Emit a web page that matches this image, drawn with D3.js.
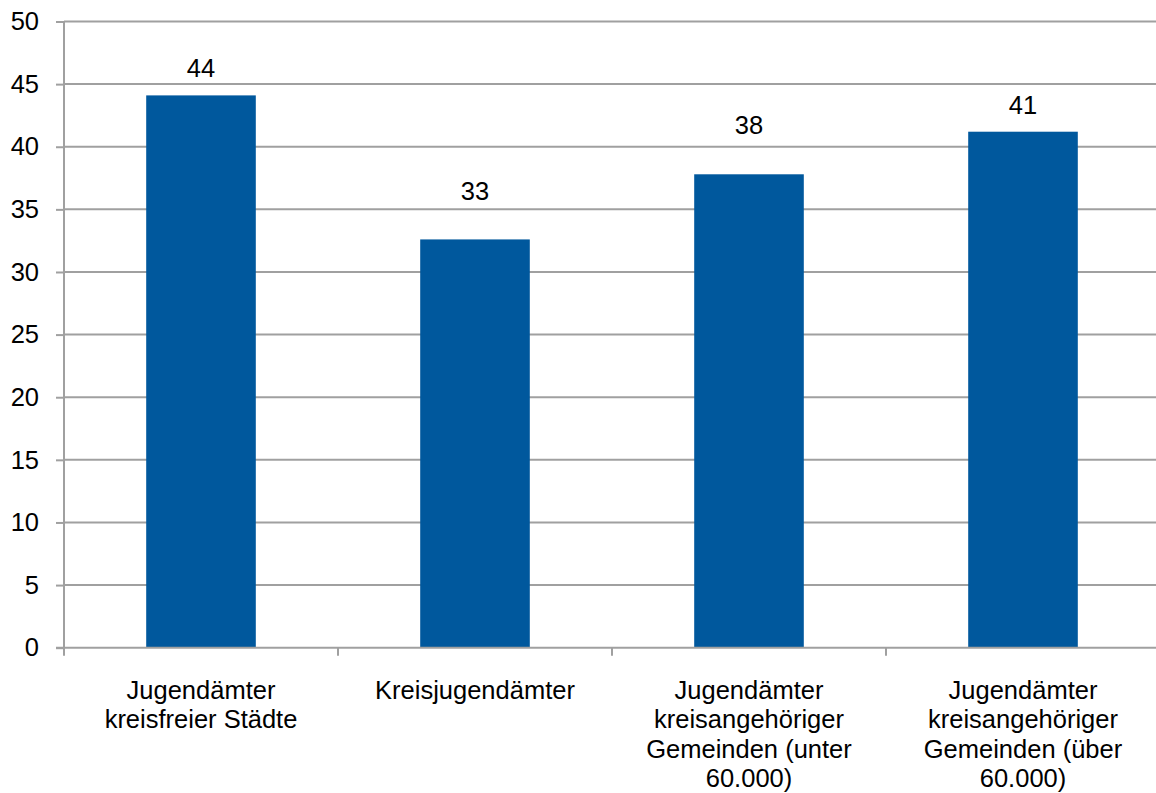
<!DOCTYPE html>
<html><head><meta charset="utf-8">
<script src="https://cdn.jsdelivr.net/npm/d3@7"></script>
<style>body{margin:0;background:#fff;} svg{display:block;font-family:"Liberation Sans",Arial,sans-serif;}</style>
</head><body><svg id="c" width="1156" height="793"></svg>
<script>
const categories = [
  ["Jugendämter","kreisfreier Städte"],
  ["Kreisjugendämter"],
  ["Jugendämter","kreisangehöriger","Gemeinden (unter","60.000)"],
  ["Jugendämter","kreisangehöriger","Gemeinden (über","60.000)"]
];
const values = [44.1, 32.6, 37.8, 41.2];
const valueLabels = ["44","33","38","41"];
// value (in axis units) at which each data label's baseline sits, as in the original
const labelLevels = [45.55, 35.77, 41.04, 42.63];
const yTicks = [0,5,10,15,20,25,30,35,40,45,50];

const FS = 25.5;
const svg = d3.select("#c");
const m = {left:64, right:-4, top:21.5, bottom:145.3};
const W = 1156, H = 793;
const x = d3.scaleBand().domain(d3.range(categories.length)).range([m.left, W - m.right]).paddingInner(0.6).paddingOuter(0.3);
const y = d3.scaleLinear().domain([0,50]).range([H - m.bottom, m.top]);

// gridlines
svg.append("g").selectAll("line").data(yTicks.filter(d=>d>0)).join("line")
  .attr("x1", m.left).attr("x2", W - m.right)
  .attr("y1", d=>y(d)).attr("y2", d=>y(d))
  .attr("stroke","#a0a0a0").attr("stroke-width",2);

// bars
svg.append("g").selectAll("rect").data(values).join("rect")
  .attr("x",(d,i)=>x(i)).attr("width",x.bandwidth())
  .attr("y",d=>y(d)).attr("height",d=>y(0)-y(d))
  .attr("fill","#00589d");

// y axis
const ya = svg.append("g").attr("transform",`translate(${m.left},0)`)
  .call(d3.axisLeft(y).tickValues(yTicks).tickSize(8).tickPadding(17));
ya.select(".domain").attr("stroke","#a0a0a0").attr("stroke-width",2).attr("d",`M0,${y(50)}V${y(0)}`);
ya.selectAll(".tick line").attr("stroke","#a0a0a0").attr("stroke-width",2);
ya.selectAll(".tick text").attr("font-size",FS).attr("fill","#000").attr("font-family","Liberation Sans, Arial, sans-serif");

// x axis baseline and ticks
const step = x.step();
const bounds = d3.range(categories.length+1).map(i=>m.left + i*step);
svg.append("line").attr("x1",m.left-8).attr("x2",W - m.right).attr("y1",y(0)).attr("y2",y(0))
  .attr("stroke","#a0a0a0").attr("stroke-width",2);
svg.append("g").selectAll("line").data(bounds).join("line")
  .attr("x1",d=>d).attr("x2",d=>d).attr("y1",y(0)).attr("y2",y(0)+8)
  .attr("stroke","#a0a0a0").attr("stroke-width",2);

// category labels
const cl = svg.append("g").selectAll("text").data(categories).join("text")
  .attr("text-anchor","middle").attr("font-size",FS).attr("fill","#000")
  .attr("x",(d,i)=>x(i)+x.bandwidth()/2).attr("y",y(0)+51);
cl.selectAll("tspan").data(d=>d).join("tspan")
  .attr("x",function(){return this.parentNode.getAttribute("x");})
  .attr("dy",(d,j)=>j===0?0:29.5).text(d=>d);

// value labels
svg.append("g").selectAll("text").data(values).join("text")
  .attr("text-anchor","middle").attr("font-size",FS).attr("fill","#000")
  .attr("x",(d,i)=>x(i)+x.bandwidth()/2).attr("y",(d,i)=>y(labelLevels[i]))
  .text((d,i)=>valueLabels[i]);
</script></body></html>
